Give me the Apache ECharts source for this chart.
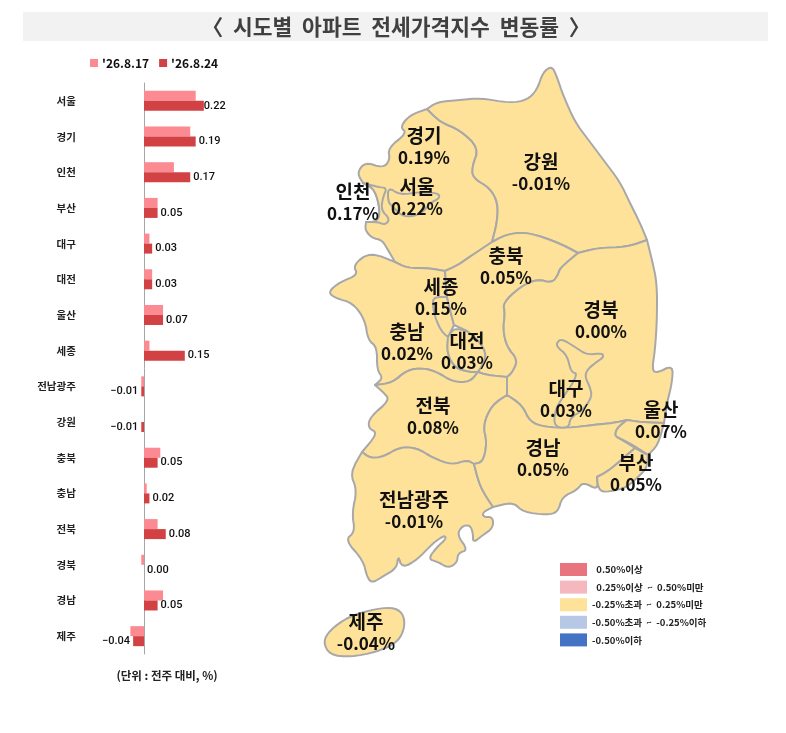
<!DOCTYPE html>
<html><head><meta charset="utf-8">
<style>html,body{margin:0;padding:0;background:#fff}#c{width:786px;height:733px}</style>
<script src="https://cdn.jsdelivr.net/npm/echarts@6/dist/echarts.min.js"></script>
</head><body><div id="c"></div>
<script>
const categories = ['서울','경기','인천','부산','대구','대전','울산','세종','전남광주','강원','충북','충남','전북','경북','경남','제주'];
const prevWeek = [0.19,0.17,0.11,0.05,0.02,0.03,0.07,0.02,-0.01,0.00,0.06,0.01,0.05,-0.01,0.07,-0.05];
const thisWeek = [0.22,0.19,0.17,0.05,0.03,0.03,0.07,0.15,-0.01,-0.01,0.05,0.02,0.08,0.00,0.05,-0.04];
const prevName = "'26.8.17";
const thisName = "'26.8.24";
const titleText = '〈  시도별  아파트  전세가격지수  변동률  〉';
const unitText = '(단위 : 전주 대비, %)';

// Region outlines of the schematic map, in the map's own units
const gyeonggi = [[427,109],[440,122],[460,130],[479,148],[472,167],[473,178],[490,188],[498,203],[497,223],[492,242],[480,250],[468,258],[458,265],[445,271],[427,268],[407,268],[395,262],[388,250],[382,240],[372,238],[365,230],[366,222],[376,222],[380,215],[378,200],[373,188],[363,183],[357,173],[365,162],[383,168],[390,160],[388,148],[407,133],[400,127],[410,115]];
const gangwon = [[427,109],[437,102],[460,100],[480,98],[510,103],[527,100],[537,90],[543,72],[552,66],[557,77],[563,95],[575,122],[587,138],[605,162],[620,182],[630,203],[640,223],[647,240],[627,247],[597,248],[578,253],[563,245],[543,237],[523,232],[505,235],[492,242],[497,223],[498,203],[490,188],[473,178],[472,167],[479,148],[460,130],[440,122]];
const seoul = [[388,187],[400,195],[420,192],[438,193],[440,198],[430,203],[420,215],[403,217],[393,207],[388,202]];
const incheon = [[363,183],[378,187],[387,188],[383,197],[381,210],[390,219],[385,225],[378,222],[366,222],[376,222],[380,215],[378,200],[373,188]];
const chungnam = [[395,262],[407,268],[427,268],[445,271],[447,297],[450,310],[454,325],[448,337],[447,353],[455,368],[470,372],[478,372],[470,382],[453,382],[437,372],[423,368],[407,370],[392,383],[375,385],[383,378],[377,370],[377,347],[368,340],[365,320],[353,303],[335,298],[328,292],[340,282],[358,275],[353,265],[370,252]];
const sejong = [[433,297],[447,297],[450,310],[454,325],[448,337],[442,332],[436,320],[433,308]];
const daejeon = [[448,337],[454,328],[467,331],[478,340],[486,352],[484,363],[478,372],[470,372],[455,368],[447,353]];
const chungbuk = [[445,271],[458,265],[468,258],[480,250],[492,242],[505,235],[523,232],[543,237],[563,245],[578,253],[560,268],[558,275],[552,283],[537,279],[520,287],[503,303],[505,313],[503,330],[507,347],[518,360],[512,373],[507,377],[487,375],[478,372],[484,363],[486,352],[478,340],[467,331],[454,325],[450,310],[447,297]];
const jeonbuk = [[375,385],[392,383],[407,370],[423,368],[437,372],[453,382],[470,382],[478,372],[487,375],[507,377],[507,395],[492,405],[483,425],[487,443],[483,462],[474,464],[467,460],[452,465],[433,458],[417,448],[400,447],[383,457],[370,458],[362,452],[378,433],[368,428],[370,417],[390,400],[383,392]];
const jeonnam = [[362,452],[370,458],[383,457],[400,447],[417,448],[433,458],[452,465],[467,460],[474,464],[480,487],[493,507],[483,512],[483,517],[493,517],[493,528],[483,535],[473,543],[473,533],[470,525],[462,526],[457,535],[468,550],[458,553],[457,563],[448,568],[438,562],[428,559],[437,547],[446,539],[445,535],[433,543],[417,560],[402,568],[398,555],[397,568],[382,577],[372,583],[367,577],[363,560],[345,540],[355,532],[352,513],[357,490],[350,473]];
const gyeongbuk = [[578,253],[597,248],[627,247],[647,240],[652,260],[657,283],[657,320],[655,350],[652,370],[657,373],[673,365],[672,383],[667,403],[664,423],[640,422],[627,420],[613,423],[593,425],[568,428],[545,427],[530,422],[522,405],[507,395],[507,377],[512,373],[518,360],[507,347],[503,330],[505,313],[503,303],[520,287],[537,279],[552,283],[558,275],[560,268]];
const daegu = [[557,342],[562,339],[575,347],[587,355],[602,353],[604,357],[595,363],[587,370],[585,377],[590,387],[592,397],[583,410],[570,418],[569,428],[554,427],[555,410],[563,397],[573,383],[577,373],[571,372],[567,355],[557,347]];
const gyeongnam = [[507,395],[522,405],[530,422],[545,427],[568,428],[593,425],[613,423],[627,420],[617,428],[615,435],[617,437],[635,448],[610,470],[597,477],[598,490],[583,482],[577,490],[562,497],[558,512],[547,515],[523,512],[513,502],[493,507],[480,487],[474,464],[483,462],[487,443],[483,425],[492,405]];
const ulsan = [[617,428],[627,420],[640,422],[664,423],[658,445],[648,455],[633,445],[617,437],[615,435]];
const busan = [[635,448],[648,455],[647,465],[645,470],[635,480],[625,488],[612,491],[602,492],[598,487],[597,477],[610,470]];
const jeju = [[323,642],[330,630],[348,617],[370,610],[392,607],[403,613],[405,627],[398,642],[377,652],[350,657],[330,655]];

// Drawing order (later regions sit on top), outline and label anchor for each
const regionNames = ['경기','강원','서울','인천','충남','세종','대전','충북','전북','전남광주','경북','대구','경남','울산','부산','제주'];
const regionShapes = [gyeonggi,gangwon,seoul,incheon,chungnam,sejong,daejeon,chungbuk,jeonbuk,jeonnam,gyeongbuk,daegu,gyeongnam,ulsan,busan,jeju];
const labelAnchors = [[424,147],[541,173],[417,198],[353,203],[407,343],[441,298],[467,352],[506,267],[433,417],[414,511],[601,321],[566,400],[543,459],[661,421],[636,474],[366,633]];

const legendRanges = [
  {min:0.5, label:'  0.50%이상', color:'#E8757D'},
  {min:0.25, lt:0.5, label:'  0.25%이상  ~  0.50%미만', color:'#F4B8BE'},
  {gt:-0.25, lt:0.25, label:'-0.25%초과  ~  0.25%미만', color:'#FEE299'},
  {gt:-0.5, lte:-0.25, label:'-0.50%초과  ~  -0.25%이하', color:'#B6C8E6'},
  {lte:-0.5, label:'-0.50%이하', color:'#4472C4'}
];

const KR = '"Noto Sans CJK KR"';
const NUM = 'Roboto,sans-serif';

// Round the traced corners of the outlines; vertices where three regions meet stay fixed so borders still join
const key = p => p[0].toFixed(3)+','+p[1].toFixed(3);
const neighbours = {};
regionShapes.forEach(r => r.forEach((p,i) => {
  const s = neighbours[key(p)] || (neighbours[key(p)] = new Set());
  s.add(key(r[(i+1)%r.length])); s.add(key(r[(i-1+r.length)%r.length]));
}));
const pinned = new Set(Object.keys(neighbours).filter(k => neighbours[k].size > 2));
const roundRing = ring => {
  const out = [];
  ring.forEach((a,i) => {
    const b = ring[(i+1)%ring.length];
    if (pinned.has(key(a))) out.push(a);
    else out.push([a[0]+(b[0]-a[0])/4, a[1]+(b[1]-a[1])/4]);
    if (!pinned.has(key(b))) out.push([a[0]+(b[0]-a[0])*3/4, a[1]+(b[1]-a[1])*3/4]);
  });
  return out;
};
const drawnShapes = regionShapes.map(r => roundRing(roundRing(r)));

const flip = ring => ring.concat([ring[0]]).map(p => [p[0], -p[1]]);
const geoJson = {type:'FeatureCollection', features: regionNames.map((name,i) => ({
  type:'Feature',
  properties:{name, cp:[labelAnchors[i][0], -labelAnchors[i][1]]},
  geometry:{type:'Polygon', coordinates:[flip(drawnShapes[i])]}
}))};
echarts.registerMap('korea', geoJson);
const allPts = drawnShapes.flat();
const minX = Math.min(...allPts.map(p=>p[0])), maxX = Math.max(...allPts.map(p=>p[0]));
const minY = Math.min(...allPts.map(p=>p[1])), maxY = Math.max(...allPts.map(p=>p[1]));
const valueByName = Object.fromEntries(categories.map((c,i)=>[c,thisWeek[i]]));

const chart = echarts.init(document.getElementById('c'), null, {renderer:'canvas'});
chart.setOption({
  animation:false,
  backgroundColor:'#fff',
  graphic:[{type:'rect', z:-1, shape:{x:23,y:12,width:745,height:29}, style:{fill:'#f2f2f2'}}],
  title:[
    {text:titleText, left:396, top:27, textAlign:'center', textVerticalAlign:'middle', padding:0,
     textStyle:{fontFamily:KR, fontSize:21.5, fontWeight:'bold', color:'#404040'}},
    {text:unitText, left:167, top:676, textAlign:'center', textVerticalAlign:'middle', padding:0,
     textStyle:{fontFamily:KR, fontSize:11.5, fontWeight:'bold', color:'#222'}}
  ],
  legend:{left:90, top:57, padding:0, itemWidth:8, itemHeight:8, itemGap:10, icon:'rect', selectedMode:false,
    data:[prevName,thisName], textStyle:{fontFamily:KR, fontSize:12, fontWeight:'bold', color:'#111', padding:[0,0,0,-1]}},
  grid:{left:116.8, top:83, width:108.8, height:571, containLabel:false},
  xAxis:{type:'value', min:-0.1, max:0.3, show:false},
  yAxis:{type:'category', inverse:true, data:categories,
    axisLine:{onZero:true, lineStyle:{color:'#a6a6a6', width:1}},
    axisTick:{length:3, lineStyle:{color:'#a6a6a6'}},
    axisLabel:{margin:41, fontFamily:KR, fontSize:10.5, fontWeight:'bold', color:'#222', interval:0}},
  visualMap:{type:'piecewise', seriesIndex:2, left:560, top:563, padding:0, itemWidth:27, itemHeight:13, itemGap:4.6, textGap:5,
    align:'left', itemSymbol:'rect', selectedMode:false, hoverLink:false, pieces:legendRanges,
    textStyle:{fontFamily:KR, fontSize:9.5, fontWeight:'bold', color:'#222'}},
  series:[
    {name:prevName, type:'bar', barWidth:10, barGap:0, data:prevWeek, silent:true, itemStyle:{color:'#FB8A92'}},
    {name:thisName, type:'bar', barWidth:10, data:thisWeek.map(v=>({value:v, label:{position:v<0?'left':'right', distance:v>=0.2?0:3}})), silent:true,
      itemStyle:{color:'#D24244'},
      label:{show:true, distance:3, fontFamily:NUM, fontSize:11, fontWeight:500, color:'#111', formatter:p=>p.value.toFixed(2).replace('-','−')}},
    {type:'map', map:'korea', silent:true, roam:false, aspectScale:1, showLegendSymbol:false,
      left:minX, top:minY, width:maxX-minX, height:maxY-minY,
      data:categories.map(name=>({name, value:valueByName[name]})),
      itemStyle:{borderColor:'#a8a8a8', borderWidth:2, borderJoin:'round'},
      emphasis:{disabled:true},
      label:{show:true, position:'inside', color:'#111',
        rich:{n:{fontFamily:KR, fontSize:19, fontWeight:'bold', color:'#111', lineHeight:22},
              v:{fontFamily:KR, fontSize:17, fontWeight:'bold', color:'#111', lineHeight:22}},
        formatter:p=>'{n|'+p.name+'}\n{v|'+p.value.toFixed(2)+'%}'}}
  ]
});
</script></body></html>
